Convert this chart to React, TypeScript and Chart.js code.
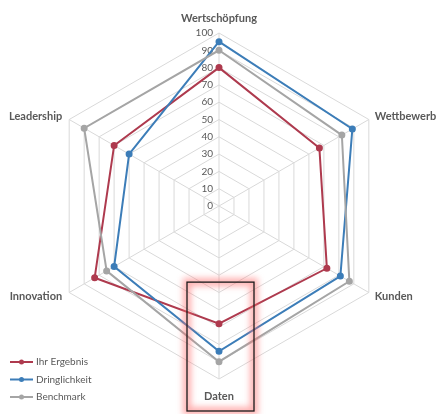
import React, { useEffect, useRef } from "react";
import { Chart, registerables } from "chart.js";

Chart.register(...registerables);

const categories = ["Wertschöpfung", "Wettbewerb", "Kunden", "Daten", "Innovation", "Leadership"];
const ihrErgebnis = [80, 67, 72, 68, 83, 70];
const dringlichkeit = [95, 89, 81, 84, 70, 60];
const benchmark = [90, 82, 87, 90, 75, 90];
const tickValues = [0, 10, 20, 30, 40, 50, 60, 70, 80, 90, 100];
const seriesNames = ["Ihr Ergebnis", "Dringlichkeit", "Benchmark"];
const seriesColors = ["#AE3A4E", "#3C7DB8", "#A5A5A5"];
const highlightIndex = 3;

const FONT = "Lato, 'Open Sans', sans-serif";
const TEXT = "#595959";

const overlayPlugin = {
  id: "overlay",
  beforeDatasetsDraw(chart: any) {
    const ctx = chart.ctx;
    const r = chart.scales.r;
    ctx.save();
    ctx.font = `10px ${FONT}`;
    ctx.fillStyle = TEXT;
    ctx.textAlign = "right";
    ctx.textBaseline = "middle";
    tickValues.forEach((v) => {
      const y = r.yCenter - r.getDistanceFromCenterForValue(v);
      ctx.fillText(String(v), r.xCenter - 6, y);
    });
    ctx.restore();
  },
  afterDraw(chart: any) {
    const ctx = chart.ctx;
    const r = chart.scales.r;
    const outer = r.getDistanceFromCenterForValue(100);
    ctx.save();
    // point labels
    ctx.font = `bold 11px ${FONT}`;
    ctx.fillStyle = TEXT;
    ctx.textBaseline = "middle";
    categories.forEach((c, i) => {
      const p = r.getPointPosition(i, outer);
      const dx = p.x - r.xCenter;
      const dy = p.y - r.yCenter;
      let x = p.x;
      let y = p.y;
      if (Math.abs(dx) < 1) {
        ctx.textAlign = "center";
        y = dy < 0 ? p.y - 15 : p.y + 17;
      } else if (dx > 0) {
        ctx.textAlign = "left";
        x = p.x + 6;
        y = dy < 0 ? p.y - 3 : p.y + 4;
      } else {
        ctx.textAlign = "right";
        x = p.x - 7;
        y = dy < 0 ? p.y - 3 : p.y + 4;
      }
      ctx.fillText(c, x, y);
    });

    // legend
    ctx.font = `10px ${FONT}`;
    ctx.textAlign = "left";
    seriesNames.forEach((name, i) => {
      const y = chart.height - 52 + i * 17.5;
      const color = seriesColors[i];
      ctx.strokeStyle = color;
      ctx.lineWidth = 2;
      ctx.beginPath();
      ctx.moveTo(10, y);
      ctx.lineTo(33, y);
      ctx.stroke();
      ctx.fillStyle = color;
      ctx.beginPath();
      ctx.arc(21.5, y, 2.5, 0, Math.PI * 2);
      ctx.fill();
      ctx.fillStyle = TEXT;
      ctx.fillText(name, 36, y);
    });

    // highlight box around "Daten"
    const pTop = r.getPointPosition(highlightIndex, r.getDistanceFromCenterForValue(44));
    const left = pTop.x - 32;
    const right = pTop.x + 35;
    const top = pTop.y;
    const bottom = chart.height - 3;
    ctx.save();
    ctx.filter = "blur(3px)";
    ctx.strokeStyle = "rgba(255,110,110,0.55)";
    ctx.lineWidth = 8;
    ctx.strokeRect(left, top, right - left, bottom - top);
    ctx.restore();
    ctx.strokeStyle = "#1a1a1a";
    ctx.lineWidth = 1.3;
    ctx.strokeRect(left, top, right - left, bottom - top);
    ctx.restore();
  },
};

export default function App() {
  const canvasRef = useRef<HTMLCanvasElement>(null);
  useEffect(() => {
    if (!canvasRef.current) return;
    const seriesData = [ihrErgebnis, dringlichkeit, benchmark];
    const chart = new Chart(canvasRef.current, {
      type: "radar",
      data: {
        labels: categories,
        datasets: seriesData.map((d, i) => ({
          label: seriesNames[i],
          data: d,
          borderColor: seriesColors[i],
          backgroundColor: seriesColors[i],
          pointBackgroundColor: seriesColors[i],
          pointBorderColor: seriesColors[i],
          borderWidth: 2,
          pointRadius: 2.5,
          fill: false,
          order: 3 - i,
        })),
      },
      options: {
        animation: false,
        responsive: true,
        maintainAspectRatio: false,
        layout: { padding: { top: 33, bottom: 35, left: 2, right: 0 } },
        plugins: { legend: { display: false }, tooltip: { enabled: false } },
        scales: {
          r: {
            min: 0,
            max: 100,
            ticks: { stepSize: 10, display: false },
            pointLabels: { display: false },
            grid: { color: "#d9d9d9", lineWidth: 1 },
            angleLines: { color: "#d9d9d9", lineWidth: 1 },
          },
        },
      },
      plugins: [overlayPlugin],
    });
    return () => chart.destroy();
  }, []);
  return (
    <div style={{ position: "absolute", left: 0, top: 0, width: 436, height: 414, background: "#fff" }}>
      <canvas ref={canvasRef} />
    </div>
  );
}
